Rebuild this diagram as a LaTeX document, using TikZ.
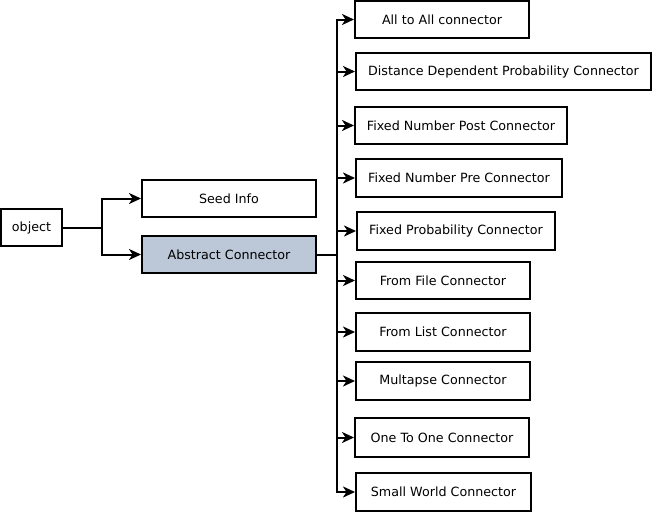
\documentclass[tikz,border=0pt]{standalone}
\usepackage{fontspec}
\setmainfont{DejaVu Sans}
\usetikzlibrary{arrows.meta}
\definecolor{absfill}{HTML}{BCC8D8}
\begin{document}
\begin{tikzpicture}[x=1pt,y=-1pt,
  box/.style={draw=black, line width=2pt, fill=white, inner sep=0pt, font=\fontsize{12.7}{15}\selectfont},
  link/.style={line width=2pt},
  arr/.style={line width=2pt, -{Stealth[length=12pt,width=11pt,inset=3.5pt]}}]
\useasboundingbox (0,0) rectangle (654,514);
% left part
\node[box, minimum width=61, minimum height=37] (obj) at (31.5,227.5) {object};
\node[box, minimum width=174, minimum height=37] (seed) at (229,198.5) {Seed Info};
\node[box, fill=absfill, minimum width=174, minimum height=37] (abs) at (229,254.5) {Abstract Connector};
% right part
\node[box, minimum width=174, minimum height=37] (b1) at (442,19.5) {All to All connector};
\node[box, minimum width=295, minimum height=37] (b2) at (503.5,71.5) {Distance Dependent Probability Connector};
\node[box, minimum width=212, minimum height=37] (b3) at (461,125.5) {Fixed Number Post Connector};
\node[box, minimum width=206, minimum height=38] (b4) at (459,178) {Fixed Number Pre Connector};
\node[box, minimum width=198, minimum height=38] (b5) at (456,231) {Fixed Probability Connector};
\node[box, minimum width=174, minimum height=37] (b6) at (443,280.5) {From File Connector};
\node[box, minimum width=174, minimum height=38] (b7) at (443,332) {From List Connector};
\node[box, minimum width=174, minimum height=38] (b8) at (443,381) {Multapse Connector};
\node[box, minimum width=174, minimum height=39] (b9) at (442,437.5) {One To One Connector};
\node[box, minimum width=175, minimum height=38] (b10) at (443.5,492) {Small World Connector};
% connectors
\coordinate (j) at (102,227.5);
\coordinate (tr) at (337,254.5);
\draw[link] (obj.east) -- (j);
\draw[arr] (j) |- (seed.west);
\draw[arr] (j) |- (abs.west);
\draw[link] (abs.east) -- (tr);
\foreach \b in {b1,b2,b3,b4,b5,b6,b7,b8,b9,b10}{
  \draw[arr] (tr) |- (\b.west);
}
\end{tikzpicture}
\end{document}
